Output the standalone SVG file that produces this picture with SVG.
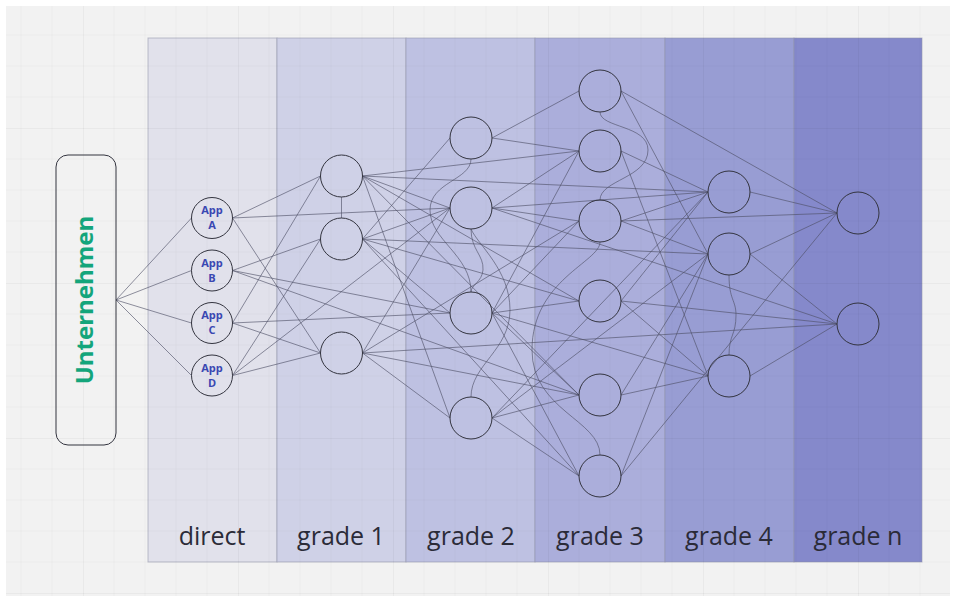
<svg xmlns="http://www.w3.org/2000/svg" width="955" height="601" viewBox="0 0 955 601">
<defs>
<pattern id="grid" patternUnits="userSpaceOnUse" x="83" y="128" width="155" height="155">
<path d="M31 0V155M62 0V155M93 0V155M124 0V155M0 31H155M0 62H155M0 93H155M0 124H155" stroke="#000" stroke-opacity="0.018" stroke-width="1" fill="none"/>
<path d="M0.5 0V155M0 0.5H155" stroke="#000" stroke-opacity="0.04" stroke-width="1" fill="none"/>
</pattern>
</defs>
<style>
.col{stroke:#8f91a8;stroke-opacity:0.55;stroke-width:1}
.lbl{font-family:"Open Sans","Noto Sans",sans-serif;font-size:25px;fill:#2b2b38;text-anchor:middle}
.n{fill:none;stroke:#33343f;stroke-width:1}
.app{font-family:"Open Sans","Noto Sans",sans-serif;font-size:11px;font-weight:bold;fill:#3a48b2;text-anchor:middle}
.e path{fill:none;stroke:#4e5066;stroke-opacity:0.7;stroke-width:0.9}
</style>
<rect width="955" height="601" fill="#ffffff"/>
<rect x="6" y="6" width="944" height="590" fill="#f2f2f2"/>
<g id="columns">
<rect class="col" x="148" y="38" width="129" height="524" fill="#e1e1eb"/>
<rect class="col" x="277" y="38" width="129" height="524" fill="#cfd1e7"/>
<rect class="col" x="406" y="38" width="129" height="524" fill="#bec1e2"/>
<rect class="col" x="535" y="38" width="130" height="524" fill="#abaedb"/>
<rect class="col" x="665" y="38" width="129" height="524" fill="#989dd3"/>
<rect class="col" x="794" y="38" width="128" height="524" fill="#8589cb"/>
</g>
<rect x="6" y="6" width="944" height="590" fill="url(#grid)"/>
<g id="labels">
<text class="lbl" x="212" y="545">direct</text>
<text class="lbl" x="341" y="545">grade 1</text>
<text class="lbl" x="471" y="545">grade 2</text>
<text class="lbl" x="600" y="545">grade 3</text>
<text class="lbl" x="729" y="545">grade 4</text>
<text class="lbl" x="858" y="545">grade n</text>
</g>
<g id="connectors" class="e">
<path d="M116 300L191.5 218M116 300L191.5 270.5M116 300L191.5 323M116 300L191.5 375.5"/>
<path d="M232.5 218L320.5 176M232.5 218L450 208M232.5 218L320.5 353"/>
<path d="M232.5 270.5L320.5 239M232.5 270.5L450 313M232.5 270.5L579 395"/>
<path d="M232.5 323L320.5 176M232.5 323L450 313M232.5 323L320.5 353"/>
<path d="M232.5 375.5L320.5 239M232.5 375.5L450 208M232.5 375.5L320.5 353"/>
<path d="M341.5 197L341.5 218"/>
<path d="M362.5 176L450 208M362.5 176L579 151M362.5 176L708 192M362.5 176L579 301M362.5 176L579 395M362.5 176L450 418"/>
<path d="M362.5 239L450 138M362.5 239L450 208M362.5 239L450 313M362.5 239L708 254M362.5 239L579 301M362.5 239L579 476"/>
<path d="M362.5 353L450 208M362.5 353L450 418M362.5 353L579 395M362.5 353L837 324M362.5 353L579 221"/>
<path d="M492 138L579 91M492 138L579 151"/>
<path d="M492 208L579 151M492 208L579 221M492 208L708 192M492 208L837 324"/>
<path d="M492 313L579 151M492 313L579 221M492 313L579 301M492 313L708 376M492 313L579 395M492 313L579 476"/>
<path d="M492 418L579 395M492 418L579 476M492 418L708 192M492 418L708 254"/>
<path d="M471 159C471 180 430 182 430 210C430 240 471 255 471 292"/>
<path d="M471 229C471 250 484 255 483 270C482 282 471 285 471 292"/>
<path d="M471 229C478 245 510 270 510 310C510 350 471 365 471 397"/>
<path d="M621 91L837 213M621 91L708 254"/>
<path d="M621 151L708 192M621 151L708 376"/>
<path d="M621 221L708 192M621 221L837 213M621 221L708 254"/>
<path d="M621 301L837 324M621 301L708 376M621 301L708 192"/>
<path d="M621 395L708 254M621 395L708 376"/>
<path d="M621 476L837 213M621 476L708 254"/>
<path d="M600 112C600 128 648 125 648 150C648 178 600 180 600 200"/>
<path d="M600 242C600 262 532 280 532 350C532 410 600 420 600 455"/>
<path d="M750 192L837 213M750 254L837 213M750 254L837 324M750 376L837 324"/>
<path d="M729 275C729 300 736 300 736 315C736 335 729 335 729 355"/>
</g>
<g id="unternehmen">
<rect x="56" y="155" width="60" height="290" rx="12" fill="none" stroke="#33343f" stroke-width="1"/>
<text transform="translate(93,300) rotate(-90)" x="0" y="0" style="font-family:'Open Sans','Noto Sans',sans-serif;font-size:24px;font-weight:bold;fill:#14a57b;text-anchor:middle">Unternehmen</text>
</g>
<g id="app-a"><circle class="n" cx="212" cy="218" r="20.5"/><text class="app" x="212" y="214">App</text><text class="app" x="212" y="229">A</text></g>
<g id="app-b"><circle class="n" cx="212" cy="270.5" r="20.5"/><text class="app" x="212" y="266.5">App</text><text class="app" x="212" y="281.5">B</text></g>
<g id="app-c"><circle class="n" cx="212" cy="323" r="20.5"/><text class="app" x="212" y="319">App</text><text class="app" x="212" y="334">C</text></g>
<g id="app-d"><circle class="n" cx="212" cy="375.5" r="20.5"/><text class="app" x="212" y="371.5">App</text><text class="app" x="212" y="386.5">D</text></g>
<g id="g1a"><circle class="n" cx="341.5" cy="176" r="21"/></g>
<g id="g1b"><circle class="n" cx="341.5" cy="239" r="21"/></g>
<g id="g1c"><circle class="n" cx="341.5" cy="353" r="21"/></g>
<g id="g2a"><circle class="n" cx="471" cy="138" r="21"/></g>
<g id="g2b"><circle class="n" cx="471" cy="208" r="21"/></g>
<g id="g2c"><circle class="n" cx="471" cy="313" r="21"/></g>
<g id="g2d"><circle class="n" cx="471" cy="418" r="21"/></g>
<g id="g3a"><circle class="n" cx="600" cy="91" r="21"/></g>
<g id="g3b"><circle class="n" cx="600" cy="151" r="21"/></g>
<g id="g3c"><circle class="n" cx="600" cy="221" r="21"/></g>
<g id="g3d"><circle class="n" cx="600" cy="301" r="21"/></g>
<g id="g3e"><circle class="n" cx="600" cy="395" r="21"/></g>
<g id="g3f"><circle class="n" cx="600" cy="476" r="21"/></g>
<g id="g4a"><circle class="n" cx="729" cy="192" r="21"/></g>
<g id="g4b"><circle class="n" cx="729" cy="254" r="21"/></g>
<g id="g4c"><circle class="n" cx="729" cy="376" r="21"/></g>
<g id="gna"><circle class="n" cx="858" cy="213" r="21"/></g>
<g id="gnb"><circle class="n" cx="858" cy="324" r="21"/></g>
</svg>
